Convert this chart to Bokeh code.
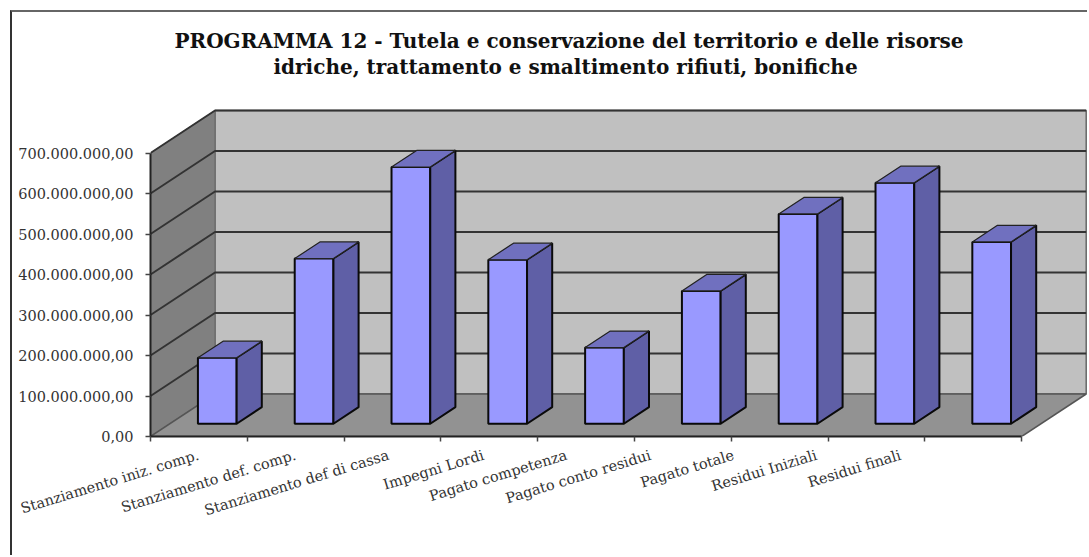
from math import radians

from bokeh.embed import file_html
from bokeh.models import FixedTicker, LinearAxis, Range1d, Title
from bokeh.plotting import figure
from bokeh.resources import INLINE

categories = [
    "Stanziamento iniz. comp.", "Stanziamento def. comp.", "Stanziamento def di cassa",
    "Impegni Lordi", "Pagato competenza", "Pagato conto residui",
    "Pagato totale", "Residui Iniziali", "Residui finali",
]
values = [163e6, 408e6, 634e6, 405e6, 188e6, 328e6, 518e6, 595e6, 449e6]
y_ticks = [0, 100e6, 200e6, 300e6, 400e6, 500e6, 600e6, 700e6]
y_labels = ["0,00", "100.000.000,00", "200.000.000,00", "300.000.000,00", "400.000.000,00",
            "500.000.000,00", "600.000.000,00", "700.000.000,00"]
title_lines = ["PROGRAMMA 12 - Tutela e conservazione del territorio e delle risorse",
               "idriche, trattamento e smaltimento rifiuti, bonifiche"]

# Layout in page pixels
OFFSET = 10
BORDER = 2
ORIGIN = OFFSET + BORDER
FRAME_L, FRAME_T, FRAME_B = 150, 78, 436
CAT_PX, PX_PER_100M = 96.8, 40.5
DEPTH_X_PX, DEPTH_Y_PX = 64.5, 42.5
label_end_px = [198, 295, 388, 483, 566, 650, 733, 816, 900]
title_left_px = [174, 273]

# Oblique projection: depth 0 is the front edge of the floor, depth 1 the back wall
depth_x = DEPTH_X_PX / CAT_PX
depth_y = DEPTH_Y_PX / PX_PER_100M * 100e6


def proj(x, v, d):
    return x + d * depth_x, v + d * depth_y


def poly(*corners):
    pts = [proj(*c) for c in corners]
    return [p[0] for p in pts], [p[1] for p in pts]


n = len(categories)
top_value = y_ticks[-1]

p = figure(
    width=1089 - ORIGIN, height=557 - ORIGIN, output_backend="svg", toolbar_location=None,
    x_range=Range1d(0, (1089 - FRAME_L) / CAT_PX),
    y_range=Range1d(0, (FRAME_B - FRAME_T) / PX_PER_100M * 100e6),
    x_axis_type=None, y_axis_type=None,
    min_border_left=FRAME_L - ORIGIN, min_border_right=0,
    min_border_top=FRAME_T - ORIGIN, min_border_bottom=557 - FRAME_B,
    outline_line_color=None, background_fill_color="white", border_fill_color="white",
    styles={"margin-left": f"{OFFSET}px", "margin-top": f"{OFFSET}px",
            "border-left": f"{BORDER}px solid #333", "border-top": f"{BORDER}px solid #666"},
)
p.grid.visible = False

# Chart box: back wall, side wall, floor
xs, ys = poly((0, 0, 1), (n, 0, 1), (n, top_value, 1), (0, top_value, 1))
p.patch(xs, ys, fill_color="#c0c0c0", line_color="#666666", line_width=1.5)
xs, ys = poly((0, 0, 0), (0, 0, 1), (0, top_value, 1), (0, top_value, 0))
p.patch(xs, ys, fill_color="#808080", line_color="#666666", line_width=1)
xs, ys = poly((0, 0, 0), (n, 0, 0), (n, 0, 1), (0, 0, 1))
p.patch(xs, ys, fill_color="#929292", line_color="#555555", line_width=1.5)

# Value gridlines run along the side wall, then across the back wall
for v in y_ticks[1:]:
    xs, ys = poly((0, v, 0), (0, v, 1), (n, v, 1))
    p.line(xs, ys, line_color="#333333", line_width=2)

# Bars, each with front, side and top faces
D0, D1 = 0.30, 0.69
HALF = 0.2
for i, v in enumerate(values):
    c = i + 0.49
    l, r = c - HALF, c + HALF
    xs, ys = poly((l, 0, D0), (r, 0, D0), (r, v, D0), (l, v, D0))
    p.patch(xs, ys, fill_color="#9999ff", line_color="#0a0a0a", line_width=2)
    xs, ys = poly((r, 0, D0), (r, 0, D1), (r, v, D1), (r, v, D0))
    p.patch(xs, ys, fill_color="#5f5fa6", line_color="#0a0a0a", line_width=2)
    xs, ys = poly((l, v, D0), (r, v, D0), (r, v, D1), (l, v, D1))
    p.patch(xs, ys, fill_color="#7070bf", line_color="#222222", line_width=1.2)

FONT = "DejaVu Serif"
TEXT = "#333333"

y_axis = LinearAxis(
    ticker=FixedTicker(ticks=y_ticks),
    major_label_overrides=dict(zip(y_ticks, y_labels)),
    bounds=(0, top_value),
    major_label_text_font=FONT, major_label_text_font_size="14.5px",
    major_label_text_color=TEXT, major_label_standoff=12,
    major_tick_in=0, major_tick_out=5, minor_tick_out=0, minor_tick_in=0,
    axis_line_color="#222222", axis_line_width=2,
    major_tick_line_color="#444444", major_tick_line_width=1.5,
)
p.add_layout(y_axis, "left")

# Category labels are anchored at their right-hand ends; the tick marks sit on category borders
anchors = [round((e - FRAME_L) / CAT_PX, 3) for e in label_end_px]
x_axis = LinearAxis(
    ticker=FixedTicker(ticks=anchors, minor_ticks=list(range(n + 1))),
    major_label_overrides=dict(zip(anchors, categories)),
    bounds=(0, n),
    major_label_orientation=radians(17),
    major_label_text_font=FONT, major_label_text_font_size="14.5px",
    major_label_text_color=TEXT, major_label_standoff=13,
    major_tick_in=0, major_tick_out=0, minor_tick_in=0, minor_tick_out=5,
    axis_line_color="#222222", axis_line_width=2,
    minor_tick_line_color="#444444", minor_tick_line_width=1.5,
)
p.add_layout(x_axis, "below")

# Each title line is its own Title so that both lines can sit where they belong
for line, left in reversed(list(zip(title_lines, title_left_px))):
    p.add_layout(Title(text=line, align="left", offset=left - FRAME_L, text_font=FONT,
                       text_font_size="20px", text_font_style="bold", text_color="#111111",
                       standoff=0, text_line_height=0.85), "above")

open("out.html", "w").write(file_html(p, INLINE))
